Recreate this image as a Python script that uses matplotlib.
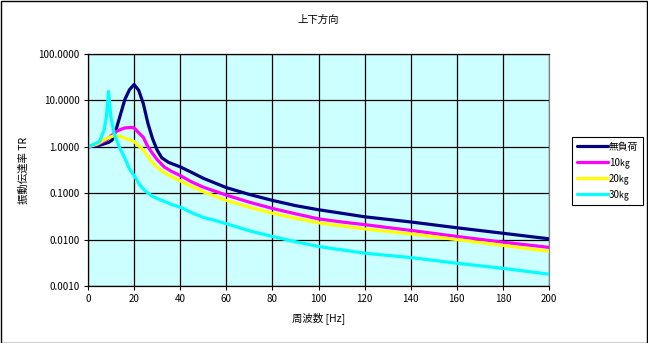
import matplotlib
matplotlib.use("Agg")
import matplotlib.pyplot as plt
from matplotlib.ticker import FixedLocator, FixedFormatter, NullLocator
from matplotlib.patches import Rectangle

plt.rcParams['font.family'] = ['Noto Sans CJK JP', 'DejaVu Sans']

title = "上下方向"
xlabel = "周波数 [Hz]"
ylabel = "振動伝達率 TR"
labels = ["無負荷", "10㎏", "20㎏", "30㎏"]
colors = ["#000080", "#FF00FF", "#FFFF00", "#00FFFF"]

x_none = [0, 5, 9, 10.5, 12, 14, 16, 18, 20, 22, 24, 26, 28, 30, 32, 35, 40, 45, 50,
          60, 70, 80, 90, 100, 110, 120, 140, 160, 180, 200]
y_none = [1.0, 1.08, 1.25, 1.4, 2.2, 4.8, 10.5, 17, 22, 16.5, 8.5, 3.2, 1.5, 0.85, 0.58,
          0.46, 0.37, 0.28, 0.21, 0.132, 0.094, 0.07, 0.054, 0.044, 0.037, 0.031,
          0.024, 0.018, 0.0137, 0.0104]

x_10 = [0, 4, 8, 12, 14, 16, 19, 20, 22, 24, 26, 28, 30, 33, 36, 40, 45, 50,
        60, 70, 80, 90, 100, 110, 120, 140, 160, 180, 200]
y_10 = [1.0, 1.12, 1.4, 2.1, 2.35, 2.55, 2.62, 2.55, 2.0, 1.6, 1.0, 0.72, 0.53, 0.37,
        0.3, 0.24, 0.175, 0.135, 0.091, 0.064, 0.047, 0.036, 0.028, 0.024, 0.021,
        0.0158, 0.0117, 0.0088, 0.0068]

x_20 = [0, 4, 8, 11, 14, 18, 20, 22, 24, 27, 30, 33, 36, 40, 45, 50,
        60, 70, 80, 90, 100, 120, 140, 160, 180, 200]
y_20 = [1.0, 1.15, 1.5, 1.72, 1.67, 1.42, 1.3, 1.05, 0.86, 0.52, 0.36, 0.28, 0.23, 0.185,
        0.14, 0.107, 0.07, 0.05, 0.037, 0.029, 0.023, 0.017, 0.0133, 0.01,
        0.0075, 0.0056]

x_30 = [0, 3, 5, 7, 8, 8.9, 9.9, 11.3, 13.5, 15.7, 16.7, 18, 20, 22.5, 25, 28, 32, 36,
        40, 45, 50, 55, 60, 70, 80, 90, 100, 120, 140, 160, 180, 200]
y_30 = [1.0, 1.15, 1.3, 2.3, 4.5, 15.6, 4.5, 1.95, 1.0, 0.61, 0.48, 0.33, 0.24, 0.15,
        0.11, 0.085, 0.07, 0.058, 0.05, 0.038, 0.03, 0.026, 0.022, 0.0155, 0.0117,
        0.009, 0.0071, 0.0051, 0.0041, 0.0031, 0.0024, 0.0018]

xticks = [0, 20, 40, 60, 80, 100, 120, 140, 160, 180, 200]
yticks = [0.001, 0.01, 0.1, 1, 10, 100]
ytick_labels = ["0.0010", "0.0100", "0.1000", "1.0000", "10.0000", "100.0000"]

W, H = 648, 343
fig = plt.figure(figsize=(W / 100, H / 100), dpi=100)
fig.patch.set_facecolor("white")
fig.add_artist(Rectangle((0.5 / W, 0.5 / H), (W - 1.5) / W, (H - 1.5) / H,
                         transform=fig.transFigure, fill=False,
                         edgecolor="black", linewidth=1))

ax = fig.add_axes([88 / W, 1 - 286 / H, (549 - 88) / W, (286 - 54) / H])
ax.set_facecolor("#CCFFFF")

series = [(x_none, y_none), (x_10, y_10), (x_20, y_20), (x_30, y_30)]
lines = []
for (xs, ys), c, lab in zip(series, colors, labels):
    ln, = ax.plot(xs, ys, color=c, linewidth=2.3, label=lab,
                  solid_joinstyle="round", solid_capstyle="round")
    lines.append(ln)

ax.set_yscale("log")
ax.set_xlim(0, 200)
ax.set_ylim(0.001, 100)
ax.xaxis.set_major_locator(FixedLocator(xticks))
ax.yaxis.set_major_locator(FixedLocator(yticks))
ax.yaxis.set_major_formatter(FixedFormatter(ytick_labels))
ax.yaxis.set_minor_locator(NullLocator())
ax.grid(True, color="black", linewidth=0.9)
ax.set_axisbelow(True)
ax.tick_params(axis="both", labelsize=7, length=3, width=0.8, color="black", pad=3)
for s in ["left", "bottom", "top"]:
    ax.spines[s].set_color("black")
    ax.spines[s].set_linewidth(0.9)
ax.spines["right"].set_color("#808080")
ax.spines["right"].set_linewidth(0.9)

fig.text(0.5 * (88 + 549) / W, 1 - 20 / H, title, ha="center", va="center", fontsize=7.5)
fig.text(0.5 * (88 + 549) / W, 1 - 318 / H, xlabel, ha="center", va="center", fontsize=7.5)
fig.text(24 / W, 1 - 170 / H, ylabel, ha="center", va="center", fontsize=7.5, rotation=90)

leg = fig.legend(handles=lines, labels=labels, loc="upper left",
                 bbox_to_anchor=(572 / W, 1 - 137 / H), bbox_transform=fig.transFigure,
                 fontsize=7, frameon=True, fancybox=False, handlelength=3.2,
                 handletextpad=0.1, borderpad=0.5, labelspacing=0.55, borderaxespad=0)
leg.get_frame().set_edgecolor("black")
leg.get_frame().set_linewidth(0.8)
leg.get_frame().set_facecolor("white")
leg.get_frame().set_alpha(1)

fig.savefig("out.png", dpi=100)
